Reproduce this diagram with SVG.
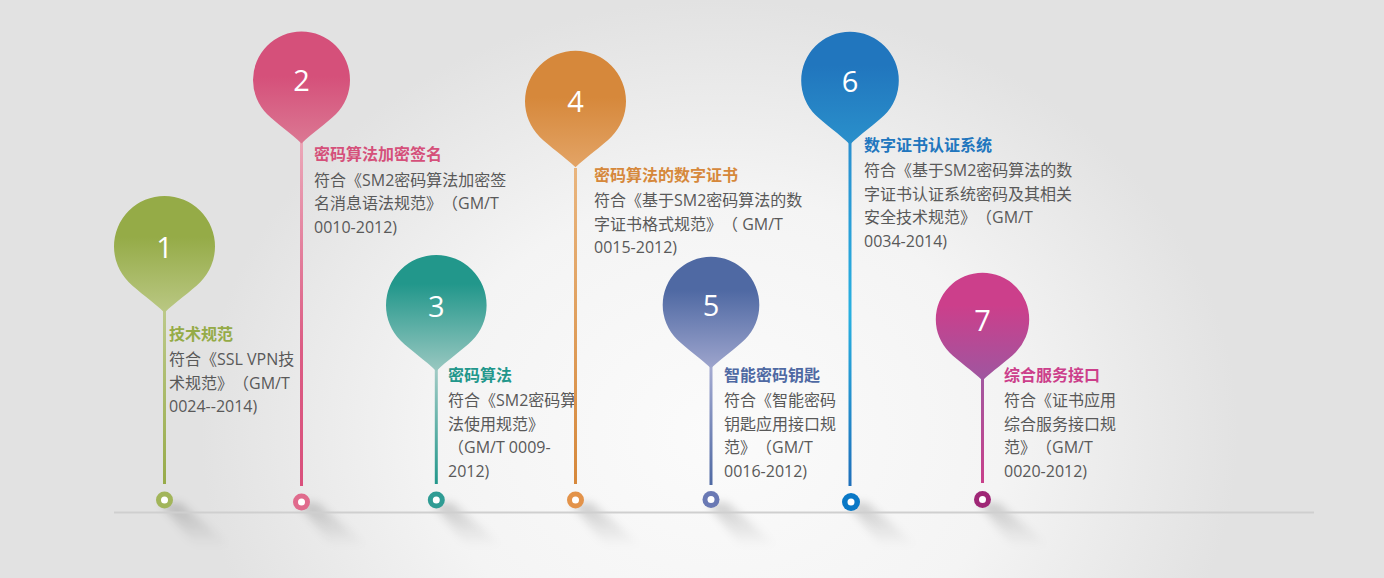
<svg xmlns="http://www.w3.org/2000/svg" width="1384" height="578" viewBox="0 0 1384 578">
<style>
.num{font-family:'Open Sans','Liberation Sans',sans-serif;font-size:29px;fill:#fff;text-anchor:middle}
.tt{font-family:'Open Sans','Noto Sans CJK SC',sans-serif;font-size:16px;font-weight:bold;text-spacing-trim:space-all}
.bd{font-family:'Open Sans','Noto Sans CJK SC',sans-serif;font-size:16px;fill:#595959;text-spacing-trim:space-all}
.hole{fill:#fff}
</style>
<defs>
<radialGradient id="bg" cx="0.52" cy="0.75" r="0.75" gradientTransform="translate(0.26 0) scale(0.5 1)">
<stop offset="0" stop-color="#fbfbfb"/>
<stop offset="0.55" stop-color="#f4f4f4"/>
<stop offset="1" stop-color="#e2e2e2"/>
</radialGradient>
<path id="drop" d="M -35.36 35.36 A 50 50 0 1 1 35.36 35.36 C 26.5 44.2 10 55.5 0 65.5 C -10 55.5 -26.5 44.2 -35.36 35.36 Z"/>
<linearGradient id="d1" x1="0" y1="0" x2="0" y2="1"><stop offset="0.35" stop-color="#95ab47"/><stop offset="1" stop-color="#bac884"/></linearGradient>
<linearGradient id="d2" x1="0" y1="0" x2="0" y2="1"><stop offset="0.4" stop-color="#d5507a"/><stop offset="1" stop-color="#db7893"/></linearGradient>
<linearGradient id="d3" x1="0" y1="0" x2="0" y2="1"><stop offset="0.25" stop-color="#22978b"/><stop offset="1" stop-color="#9ac8c1"/></linearGradient>
<linearGradient id="d4" x1="0" y1="0" x2="0" y2="1"><stop offset="0.4" stop-color="#d6883b"/><stop offset="1" stop-color="#e3a466"/></linearGradient>
<linearGradient id="d5" x1="0" y1="0" x2="0" y2="1"><stop offset="0.3" stop-color="#4f69a3"/><stop offset="1" stop-color="#9ea5cd"/></linearGradient>
<linearGradient id="d6" x1="0" y1="0" x2="0" y2="1"><stop offset="0.3" stop-color="#2176be"/><stop offset="1" stop-color="#2a90cb"/></linearGradient>
<linearGradient id="d7" x1="0" y1="0" x2="0" y2="1"><stop offset="0.3" stop-color="#cc3f8b"/><stop offset="1" stop-color="#9e56a0"/></linearGradient>
<linearGradient id="s1" x1="0" y1="0" x2="0" y2="1"><stop offset="0" stop-color="#bcc98a"/><stop offset="1" stop-color="#97ab49"/></linearGradient>
<linearGradient id="s2" x1="0" y1="0" x2="0" y2="1"><stop offset="0" stop-color="#eba7b8"/><stop offset="0.6" stop-color="#dc5c84"/><stop offset="1" stop-color="#d9507c"/></linearGradient>
<linearGradient id="s3" x1="0" y1="0" x2="0" y2="1"><stop offset="0" stop-color="#a2cbc5"/><stop offset="1" stop-color="#22978b"/></linearGradient>
<linearGradient id="s4" x1="0" y1="0" x2="0" y2="1"><stop offset="0" stop-color="#e9b57e"/><stop offset="1" stop-color="#d6883b"/></linearGradient>
<linearGradient id="s5" x1="0" y1="0" x2="0" y2="1"><stop offset="0" stop-color="#a6acd2"/><stop offset="1" stop-color="#4f69a3"/></linearGradient>
<linearGradient id="s6" x1="0" y1="0" x2="0" y2="1"><stop offset="0" stop-color="#2a8fcf"/><stop offset="0.5" stop-color="#28b0e0"/><stop offset="1" stop-color="#1f6fba"/></linearGradient>
<linearGradient id="s7" x1="0" y1="0" x2="0" y2="1"><stop offset="0" stop-color="#a358a0"/><stop offset="1" stop-color="#c8408a"/></linearGradient>
<linearGradient id="shg" x1="0" y1="0" x2="0" y2="1"><stop offset="0" stop-color="#000" stop-opacity="0.18"/><stop offset="1" stop-color="#000" stop-opacity="0"/></linearGradient>
<filter id="blur" x="-50%" y="-50%" width="200%" height="200%"><feGaussianBlur stdDeviation="4.5"/></filter>
<path id="sh" d="M -4 503 L 16 503 L 66 546 L 30 546 Z"/>
</defs>
<rect width="1384" height="578" fill="url(#bg)"/>
<g id="shadows" fill="url(#shg)" filter="url(#blur)">
<use href="#sh" x="164.5"/>
<use href="#sh" x="301.5"/>
<use href="#sh" x="436.3"/>
<use href="#sh" x="575.5"/>
<use href="#sh" x="711"/>
<use href="#sh" x="851"/>
<use href="#sh" x="982.5"/>
</g>
<g id="connectors">
<line x1="114" y1="512.5" x2="1314" y2="512.5" stroke="#cfcfcf" stroke-width="2"/>
</g>
<g id="pin1">
<rect x="163" y="310" width="3" height="174" fill="url(#s1)"/>
<use href="#drop" fill="url(#d1)" transform="translate(164.5 246.5) scale(1.01)"/>
<text class="num" x="164.5" y="258">1</text>
<circle cx="164.5" cy="500" r="8.5" fill="#a2b55a"/><circle class="hole" cx="164.5" cy="500" r="3.5"/>
<text class="tt" x="169" y="340" fill="#95ab47">技术规范</text>
<text class="bd" x="169" y="365">符合《SSL VPN技</text>
<text class="bd" x="169" y="388.5">术规范》（GM/T</text>
<text class="bd" x="169" y="412">0024--2014)</text>
</g>
<g id="pin2">
<rect x="300" y="142" width="3" height="344" fill="url(#s2)"/>
<use href="#drop" fill="url(#d2)" transform="translate(301.5 80) scale(0.97)"/>
<text class="num" x="301.5" y="91">2</text>
<circle cx="301.5" cy="502" r="8.5" fill="#e06b8d"/><circle class="hole" cx="301.5" cy="502" r="3.5"/>
<text class="tt" x="314" y="160" fill="#d5507a">密码算法加密签名</text>
<text class="bd" x="314" y="185.5">符合《SM2密码算法加密签</text>
<text class="bd" x="314" y="209">名消息语法规范》（GM/T</text>
<text class="bd" x="314" y="232.5">0010-2012)</text>
</g>
<g id="pin3">
<rect x="434.8" y="369" width="3" height="115" fill="url(#s3)"/>
<use href="#drop" fill="url(#d3)" transform="translate(436.3 305.3) scale(1.006)"/>
<text class="num" x="436.3" y="317">3</text>
<circle cx="436.3" cy="500" r="8.5" fill="#2f9c94"/><circle class="hole" cx="436.3" cy="500" r="3.5"/>
<text class="tt" x="448" y="381" fill="#22978b">密码算法</text>
<text class="bd" x="448" y="406">符合《SM2密码算</text>
<text class="bd" x="448" y="429.5">法使用规范》</text>
<text class="bd" x="448" y="453">（GM/T 0009-</text>
<text class="bd" x="448" y="476.5">2012)</text>
</g>
<g id="pin4">
<rect x="574" y="168" width="3" height="316" fill="url(#s4)"/>
<use href="#drop" fill="url(#d4)" transform="translate(575.5 101.2) scale(1.01)"/>
<text class="num" x="575.5" y="112">4</text>
<circle cx="575.5" cy="500" r="8.5" fill="#e3934a"/><circle class="hole" cx="575.5" cy="500" r="3.5"/>
<text class="tt" x="594" y="181" fill="#d6883b">密码算法的数字证书</text>
<text class="bd" x="594" y="206">符合《基于SM2密码算法的数</text>
<text class="bd" x="594" y="229.5">字证书格式规范》（ GM/T</text>
<text class="bd" x="594" y="253">0015-2012)</text>
</g>
<g id="pin5">
<rect x="709.5" y="365" width="3" height="120" fill="url(#s5)"/>
<use href="#drop" fill="url(#d5)" transform="translate(711 305) scale(0.966)"/>
<text class="num" x="711" y="316">5</text>
<circle cx="711" cy="499.5" r="8.5" fill="#6a79b4"/><circle class="hole" cx="711" cy="499.5" r="3.5"/>
<text class="tt" x="724" y="381" fill="#4f69a3">智能密码钥匙</text>
<text class="bd" x="724" y="406">符合《智能密码</text>
<text class="bd" x="724" y="429.5">钥匙应用接口规</text>
<text class="bd" x="724" y="453">范》（GM/T</text>
<text class="bd" x="724" y="476.5">0016-2012)</text>
</g>
<g id="pin6">
<rect x="848.5" y="141" width="3" height="345" fill="url(#s6)"/>
<use href="#drop" fill="url(#d6)" transform="translate(850 80.5) scale(0.976)"/>
<text class="num" x="850" y="91.5">6</text>
<circle cx="851" cy="502" r="9" fill="#0a78c6"/><circle class="hole" cx="851" cy="502" r="3.5"/>
<text class="tt" x="864" y="151" fill="#2176be">数字证书认证系统</text>
<text class="bd" x="864" y="176">符合《基于SM2密码算法的数</text>
<text class="bd" x="864" y="199.5">字证书认证系统密码及其相关</text>
<text class="bd" x="864" y="223">安全技术规范》（GM/T</text>
<text class="bd" x="864" y="246.5">0034-2014)</text>
</g>
<g id="pin7">
<rect x="981" y="378" width="3" height="105" fill="url(#s7)"/>
<use href="#drop" fill="url(#d7)" transform="translate(982.5 319.4) scale(0.934)"/>
<text class="num" x="982.5" y="330.5">7</text>
<circle cx="982.5" cy="499.5" r="8.5" fill="#9f2776"/><circle class="hole" cx="982.5" cy="499.5" r="3.5"/>
<text class="tt" x="1004" y="381" fill="#cc3f8b">综合服务接口</text>
<text class="bd" x="1004" y="406">符合《证书应用</text>
<text class="bd" x="1004" y="429.5">综合服务接口规</text>
<text class="bd" x="1004" y="453">范》（GM/T</text>
<text class="bd" x="1004" y="476.5">0020-2012)</text>
</g>
</svg>
